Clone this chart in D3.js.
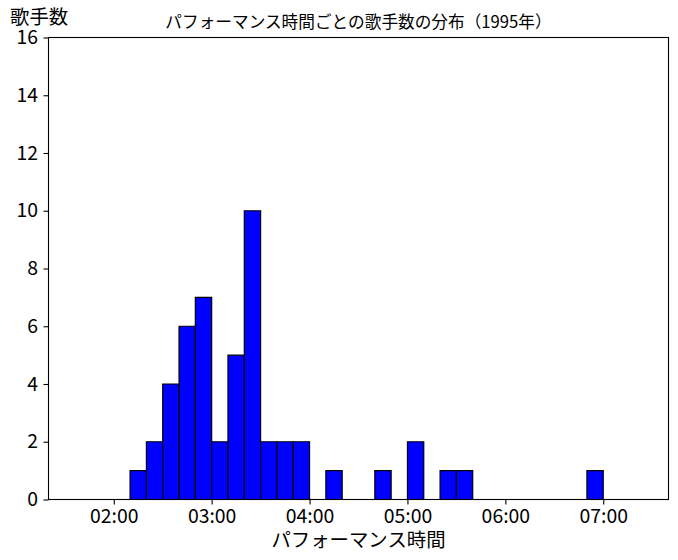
<!DOCTYPE html>
<html>
<head>
<meta charset="utf-8">
<script src="https://cdn.jsdelivr.net/npm/d3@7/dist/d3.min.js"></script>
<style>
  html, body { margin: 0; padding: 0; background: #fff; }
  svg { display: block; font-family: "Noto Sans CJK JP", "Noto Sans", sans-serif; }
</style>
</head>
<body>
<svg id="chart" width="678" height="560"></svg>
<script>
// ---- data (seconds) ----
const binStarts = [80, 90, 100, 110, 120, 130, 140, 150, 160, 170, 180, 190, 200, 210, 220, 230, 240, 250, 260, 270, 280, 290, 300, 310, 320, 330, 340, 350, 360, 370, 380, 390, 400, 410, 420, 430, 440];
const counts    = [0, 0, 0, 0, 0, 1, 2, 4, 6, 7, 2, 5, 10, 2, 2, 2, 0, 1, 0, 0, 1, 0, 2, 0, 1, 1, 0, 0, 0, 0, 0, 0, 0, 1, 0, 0, 0];
const binWidth = 10;
const xTickValues = [120, 180, 240, 300, 360, 420];
const xTickLabels = ["02:00", "03:00", "04:00", "05:00", "06:00", "07:00"];
const yTickValues = [0, 2, 4, 6, 8, 10, 12, 14, 16];
const titleText = "パフォーマンス時間ごとの歌手数の分布（1995年）";
const xLabelText = "パフォーマンス時間";
const yLabelText = "歌手数";

// ---- layout ----
const W = 678, H = 560;
const L = 48.5, R = 668.5, T = 37.5, B = 499.5;

const svg = d3.select("#chart");
const x = d3.scaleLinear().domain([80, 460]).range([L, R]);
const y = d3.scaleLinear().domain([0, 16]).range([B, T]);

// bars
const bars = binStarts.map((s, i) => ({ x0: s, x1: s + binWidth, c: counts[i] }));
svg.append("g").selectAll("path").data(bars).join("path")
  .attr("d", d => {
    const a = x(d.x0), b = x(d.x1), y0 = y(0), y1 = y(d.c);
    return `M${a},${y0}V${y1}H${b}V${y0}Z`;
  })
  .attr("fill", "#0000ff")
  .attr("stroke", "#000")
  .attr("stroke-width", 1.2);

// axes
const xAxis = d3.axisBottom(x).tickValues(xTickValues)
  .tickFormat((d, i) => xTickLabels[i]).tickSize(5).tickPadding(5);
const yAxis = d3.axisLeft(y).tickValues(yTickValues)
  .tickFormat(d3.format("d")).tickSize(5).tickPadding(5.5);

const gx = svg.append("g").attr("transform", `translate(0,${B})`).call(xAxis);
const gy = svg.append("g").attr("transform", `translate(${L},0)`).call(yAxis);
[gx, gy].forEach(g => {
  g.select(".domain").remove();
  g.selectAll(".tick line").attr("stroke", "#000").attr("stroke-width", 1.1);
  g.selectAll(".tick text").attr("fill", "#000")
    .style("font-size", "19.4px")
    .style("font-family", '"Noto Sans CJK JP", sans-serif');
});
gx.selectAll(".tick text").attr("dy", "0.71em");

// frame
svg.append("rect")
  .attr("x", L).attr("y", T).attr("width", R - L).attr("height", B - T)
  .attr("fill", "none").attr("stroke", "#000").attr("stroke-width", 1.1);

// title
svg.append("text")
  .attr("x", (L + R) / 2).attr("y", 28)
  .attr("text-anchor", "middle")
  .style("font-size", "16.67px")
  .attr("fill", "#000")
  .text(titleText);

// x label
svg.append("text")
  .attr("x", (L + R) / 2).attr("y", 547)
  .attr("text-anchor", "middle")
  .style("font-size", "19.4px")
  .attr("fill", "#000")
  .text(xLabelText);

// y label (horizontal, top-left)
svg.append("text")
  .attr("x", 10).attr("y", 23.5)
  .attr("text-anchor", "start")
  .style("font-size", "19.4px")
  .attr("fill", "#000")
  .text(yLabelText);
</script>
</body>
</html>
